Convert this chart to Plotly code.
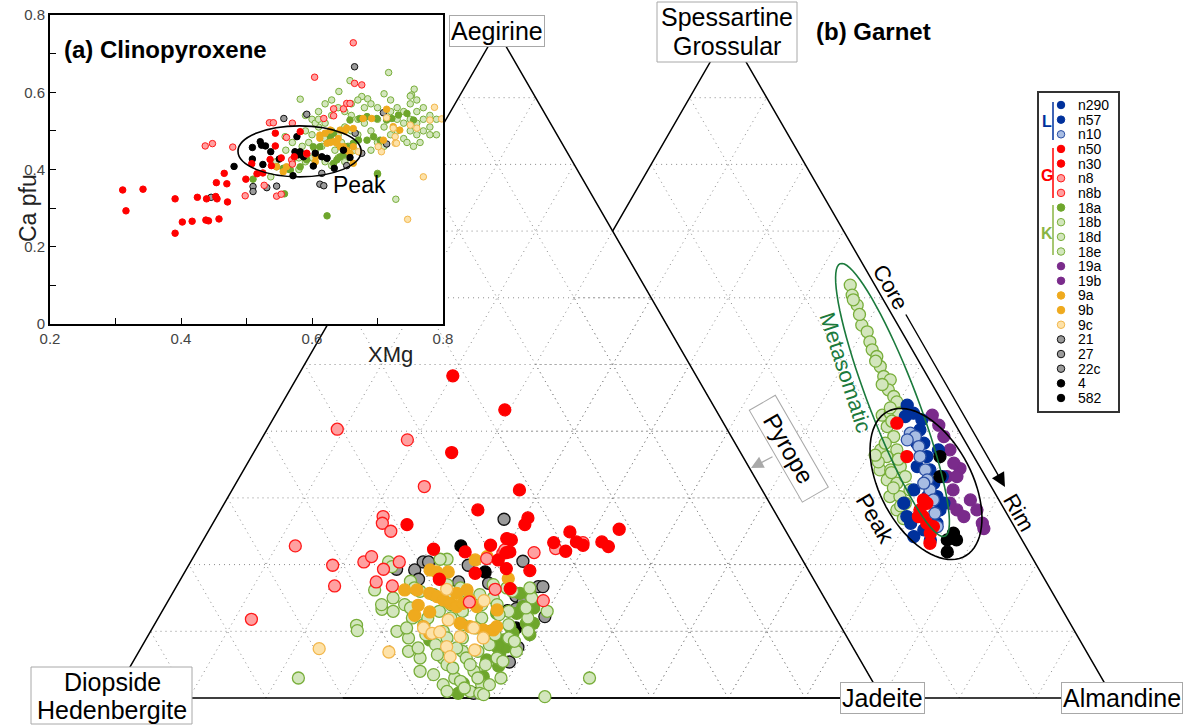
import numpy as np
import plotly.graph_objects as go

# ======================= DATA =======================
# (a) Clinopyroxene inset : (XMg, Ca pfu)
ins_G_solid = [(0.311,0.347),(0.316,0.293),(0.342,0.349),(0.391,0.324),(0.391,0.235),(0.402,0.264),(0.417,0.266),
               (0.425,0.328),(0.439,0.324),(0.438,0.269),(0.442,0.267),(0.453,0.330),(0.455,0.324),(0.454,0.366),
               (0.458,0.272),(0.466,0.390),(0.470,0.363),(0.471,0.316),(0.499,0.375),(0.508,0.415),(0.516,0.389),
               (0.525,0.391),(0.536,0.426),(0.544,0.494),(0.544,0.461),(0.538,0.410),(0.553,0.430),(0.573,0.433),
               (0.582,0.498),(0.592,0.442)]                                   # n50, n30
ins_G_open = [(0.663,0.728),(0.604,0.639),(0.665,0.623),(0.676,0.619),(0.633,0.557),(0.648,0.557),(0.653,0.571),
              (0.658,0.571),(0.633,0.539),(0.618,0.532),(0.535,0.521),(0.541,0.521),(0.570,0.520),(0.437,0.461),
              (0.448,0.467),(0.479,0.458),(0.498,0.332),(0.527,0.359),(0.546,0.331),(0.553,0.336),(0.561,0.483),
              (0.569,0.425),(0.570,0.414),(0.592,0.440)]                      # n8, n8b
ins_gray = [(0.446,0.328),(0.665,0.666),(0.557,0.532),(0.592,0.543),(0.510,0.356),(0.510,0.343),(0.531,0.353),
            (0.546,0.357),(0.615,0.390),(0.612,0.362),(0.618,0.358),(0.653,0.410),(0.709,0.547),(0.714,0.466),
            (0.676,0.442),(0.666,0.494)]                                      # 21, 27, 22c
ins_black = [(0.481,0.408),(0.509,0.457),(0.509,0.427),(0.521,0.472),(0.523,0.463),(0.529,0.461),(0.525,0.413),
             (0.537,0.446),(0.550,0.427),(0.571,0.384),(0.574,0.446),(0.579,0.438),(0.577,0.485),(0.587,0.433),
             (0.602,0.409),(0.615,0.433),(0.623,0.429),(0.634,0.403),(0.658,0.431),(0.582,0.446),(0.605,0.442),
             (0.648,0.450)]                                                   # 4, 582
ins_K_solid = [(0.510,0.375),(0.558,0.337),(0.623,0.280),(0.700,0.388),(0.633,0.416),(0.638,0.425),(0.643,0.433),
               (0.648,0.438),(0.653,0.459),(0.663,0.468),(0.671,0.476),(0.658,0.528),(0.673,0.532),(0.684,0.537),
               (0.699,0.532),(0.714,0.528),(0.722,0.532),(0.732,0.541),(0.745,0.545),(0.755,0.528),(0.684,0.476),
               (0.694,0.485),(0.704,0.476),(0.546,0.407),(0.556,0.403),(0.567,0.399),(0.582,0.407),(0.592,0.425),
               (0.602,0.459),(0.612,0.459),(0.628,0.485),(0.633,0.494)]       # 18a
ins_K_open = [(0.717,0.651),(0.756,0.608),(0.641,0.602),(0.685,0.583),(0.710,0.596),(0.582,0.582),(0.676,0.589),
              (0.658,0.630),(0.728,0.323),(0.700,0.390),(0.537,0.381),(0.559,0.485),(0.752,0.593),
              (0.590,0.540),(0.600,0.530),(0.610,0.550),(0.620,0.520),(0.630,0.540),(0.640,0.560),(0.650,0.550),
              (0.660,0.540),(0.670,0.530),(0.590,0.500),(0.600,0.490),(0.610,0.510),(0.620,0.480),(0.630,0.500),
              (0.640,0.490),(0.650,0.510),(0.660,0.500),(0.670,0.490),(0.585,0.460),(0.595,0.470),(0.605,0.450),
              (0.615,0.460),(0.625,0.470),(0.635,0.450),(0.645,0.470),(0.655,0.460),(0.665,0.450),(0.580,0.430),
              (0.590,0.420),(0.600,0.430),(0.620,0.420),(0.630,0.410),(0.640,0.430),(0.650,0.420),(0.580,0.400),
              (0.570,0.420),(0.560,0.450),(0.570,0.470),(0.565,0.400),(0.545,0.420),
              (0.680,0.520),(0.690,0.500),(0.700,0.530),(0.710,0.510),(0.720,0.550),(0.730,0.530),(0.740,0.550),
              (0.750,0.570),(0.760,0.580),(0.770,0.560),(0.780,0.540),(0.790,0.530),(0.720,0.490),(0.730,0.500),
              (0.740,0.480),(0.750,0.500),(0.760,0.490),(0.770,0.500),(0.780,0.490),(0.790,0.490),(0.740,0.520),
              (0.750,0.530),(0.760,0.520),(0.770,0.530),(0.780,0.510),(0.755,0.460),(0.765,0.470),(0.745,0.470),
              (0.700,0.470),(0.690,0.450),(0.710,0.460),(0.730,0.560),(0.700,0.560),(0.680,0.560),(0.670,0.580),
              (0.690,0.570),(0.760,0.550),(0.750,0.590),(0.720,0.580),(0.620,0.570),(0.630,0.580),(0.660,0.570),
              (0.605,0.520),(0.610,0.530)]                                    # 18b, 18d, 18e
ins_O_solid = [(0.714,0.556),(0.691,0.532),(0.678,0.532),(0.663,0.506),(0.653,0.507),(0.643,0.502),(0.628,0.502),
               (0.620,0.494),(0.612,0.489),(0.612,0.481),(0.623,0.468),(0.633,0.472),(0.638,0.468),(0.643,0.459),
               (0.648,0.459),(0.653,0.450),(0.658,0.442),(0.663,0.459),(0.605,0.420),(0.606,0.433),(0.561,0.407),
               (0.556,0.394),(0.546,0.407),(0.663,0.416),(0.734,0.502),(0.724,0.511),(0.709,0.476),(0.650,0.500),
               (0.640,0.480),(0.628,0.470)]                                   # 9a, 9b
ins_O_open = [(0.787,0.561),(0.798,0.531),(0.780,0.528),(0.770,0.381),(0.746,0.271),(0.714,0.534),(0.724,0.507),
              (0.727,0.485),(0.727,0.468),(0.706,0.446),(0.701,0.459),(0.729,0.468),(0.671,0.446),(0.750,0.515),
              (0.760,0.507)]                                                  # 9c

# (b) left ternary: clinopyroxene compositions (Jadeite %, Aegirine %); Quad = 100 - Jd - Ae
cpx_G_solid = [(20.1,48.3),(29.4,43.2),(25.7,36.8),(37.3,31.2),(33.4,28.2),(25.3,26.0),(40.5,27.0),(40.6,26.0),
               (47.0,24.9),(53.2,25.3),(51.9,23.4),(53.1,22.7),(48.6,23.4),(49.7,22.9),(45.7,23.3),(47.9,22.0),
               (39.3,23.9),(40.0,23.7),(40.7,21.9),(40.3,21.8),(37.7,22.9),(30.6,22.3),(34.9,21.9),(39.8,20.7),
               (41.5,19.4),(44.7,19.1),(37.8,18.7),(33.6,17.8),(43.5,16.4)]
cpx_G_open = [(9.1,40.3),(19.0,38.7),(24.7,31.7),(21.6,27.2),(22.0,26.2),(23.7,25.0),(12.4,22.8),(18.7,19.9),
              (20.5,16.8),(22.5,20.4),(23.1,21.2),(25.6,19.3),(25.6,17.4),(28.0,16.8),(27.1,20.4),(12.2,11.8),
              (38.2,20.9),(39.9,21.7),(39.9,22.2),(41.6,16.3),(39.2,14.4),(43.9,21.8),(48.7,14.6),(46.4,22.4),
              (49.5,23.3)]
cpx_gray = [(37.5,26.8),(43.1,20.5),(30.2,20.4),(30.9,20.4),(29.7,19.2),(30.9,17.8),(27.3,19.3),(36.3,17.4),
            (36.3,19.9),(40.3,17.2),(44.8,15.3),(46.2,14.3),(47.0,16.7),(47.6,16.7),(50.1,12.2),(48.9,7.6),
            (48.9,5.4),(46.6,0.7),(45.8,13.4)]
cpx_black = [(33.9,22.8),(39.0,18.9),(44.8,13.1),(47.2,10.5)]
cpx_K_solid = [(46.6,15.4),(46.5,13.7),(46.2,12.7),(46.3,10.7),(46.5,8.7),(47.0,6.7),(47.4,7.7),(47.2,9.7),
               (48.2,11.2),(49.1,11.2),(43.6,12.7),(44.7,9.7),(44.6,0.7),(44.5,2.2),(46.6,3.2),(36.9,8.7),
               (45.1,15.7),(46.1,7.7),(45.8,5.7),(48.0,13.5),(49.5,9.5),(47.8,4.8)]
cpx_K_open = [(22.7,3.0),(26.3,10.9),(26.8,10.1),(28.4,13.3),(60.5,3.0),(56.1,0.2),(26.0,16.2),(25.7,20.4),
              (26.5,19.7),(33.1,20.8),(32.2,20.8),
              (29,15),(32,16),(35,17),(38,16),(41,17),(44,16),(47,15),(30,17.5),(36,15),(42,15),
              (30,13),(33,12),(36,13),(39,13),(42,12),(45,13),(48,12),(50,13),(31,14),(37,14),(43,14),
              (32,10),(35,11),(38,10),(41,9),(44,10),(47,9),(49,10),(34,9),(40,11),(46,11),
              (35,7),(38,8),(40,6),(42,7),(45,8),(47,6),(49,7),(37,6),(43,6),
              (38,4),(41,5),(43,3),(45,4),(47,2),(49,3),(44,5),(46,1),(47.4,0.7),(48,0.5),(42,2),
              (31,16.5),(34,15.5),(37,16.5),(40,15.5),(43,16.5),(46,16.5),(28,14),(32,13.5),(35,12),(38,12),
              (41,14),(44,12.5),(47,13.5),(33,10.5),(36,9.5),(39,9),(42,10.5),(45,9.5),(48,8.5),(36,7.5),
              (39,6.5),(41,7.5),(44,7),(46,5),(48,5.5),(40,3.5),(42,4.5),(44,2.5),(46,3),(45,1.5),(43,1),(48,2)]
cpx_O_solid = [(38.1,21.2),(36.8,20.7),(42.5,17.9),(31.7,19.2),(32.7,18.9),(34.2,18.9),(29.9,16.2),(31.5,16.2),
               (33.4,15.7),(34.6,15.2),(35.7,14.7),(36.8,14.2),(37.9,13.7),(38.5,14.2),(39.1,14.7),(40.5,13.7),
               (32.8,13.9),(33.1,12.4),(34.8,12.9),(39.6,11.2),(41.1,10.7),(43.1,10.2),(44.4,10.2),(44.6,10.7),
               (35.1,10.7),(36.4,9.7),(36.9,15.7),(38.0,16.2),(43.4,13.2)]
cpx_O_open = [(23.2,7.4),(32.5,6.9),(35.3,16.3),(41.0,14.6),(37.8,11.7),(35.2,10.5),(36.7,9.7),(37.6,9.9),
              (40.6,9.2),(41.7,10.5),(43.7,9.0),(43.5,7.2),(39.6,7.7),(40.8,6.2)]

# (b) right ternary: garnet compositions (Spessartine+Grossular %, Pyrope %); Almandine = 100 - Grs - Prp
grt_K_open = [(61.9,3.2),(60.4,3.7),(58.9,3.8),(59.7,3.9),(55.9,4.7),(54.9,4.5),(53.4,4.9),(52.2,5.2),(51.2,5.1),
              (49.7,5.4),(48.2,5.7),(47.7,5.1),(46.2,6.1),(45.2,5.9),(44.4,5.9),(42.4,8.8),(42.7,7.6),(42.7,6.5),
              (40.7,9.0),(39.2,8.9),(37.2,11.6),(36.2,11.3),(37.2,9.5),(34.2,13.2),(34.2,11.8),(34.7,10.3),
              (32.7,13.0),(32.2,12.0),(33.2,10.4),(30.2,13.9),(30.2,12.6),(28.2,14.0),(29.2,12.4),(26.9,13.8),
              (31.2,10.8),(35.4,12.8),(36.4,12.7),(57.5,4.2),(50.5,5.6),(47.0,6.5),(43.5,7.2),(41.5,8.0),
              (38.2,10.5),(35.8,10.0),(31.5,12.8),(28.8,13.2),(33.8,11.9)]
grt_P = [(42.4,2.3),(40.9,2.2),(39.2,2.4),(37.2,2.6),(34.4,2.7),(35.2,3.1),(33.2,5.0),(31.2,5.2),(29.7,3.7),
         (28.2,3.6),(26.2,3.9),(25.4,4.1),(28.2,6.2),(27.2,5.8),(29.2,6.6),(33.2,3.7)]
grt_L_solid = [(43.9,4.8),(42.7,4.6),(42.2,5.9),(40.2,5.0),(38.2,5.5),(36.2,6.1),(34.2,6.7),(32.2,7.2),(30.2,7.8),
               (28.2,8.4),(26.2,9.8),(25.2,12.0),(26.2,13.2),(29.2,12.6),(27.2,13.2),(24.2,13.8),(23.7,11.9),
               (41.7,4.0),(38.2,6.4),(34.7,8.1),(31.2,10.3),(30.2,9.0),(33.2,5.6),(29.2,7.4),(37.2,4.1)]
grt_L_open = [(39.7,6.5),(39.2,6.1),(37.7,6.4),(36.2,7.0),(34.2,7.3),(32.7,7.8),(31.2,8.2),(29.7,8.5),(27.7,9.3),
              (25.7,10.0),(32.2,8.5),(38.7,7.4)]
grt_G_solid = [(41.2,7.5),(36.2,8.7),(29.7,9.8),(28.2,11.0),(27.2,11.1),(26.2,11.1),(24.7,11.4),(23.2,12.2),
               (25.7,10.5),(29.2,9.6),(27.2,11.7)]
grt_black = [(24.7,8.4),(23.7,9.7),(23.7,8.5),(21.9,10.6),(36.2,4.4),(33.2,5.9)]

# legend
legend_names = ['n290', 'n57', 'n10', 'n50', 'n30', 'n8', 'n8b', '18a', '18b', '18d', '18e',
                '19a', '19b', '9a', '9b', '9c', '21', '27', '22c', '4', '582']
legend_keys = ['L1', 'L1', 'L2', 'G1', 'G1', 'G2', 'G2', 'K1', 'K2', 'K2', 'K2',
               'P', 'P', 'O1', 'O1', 'O2', 'GR', 'GR', 'GR', 'BK', 'BK']

# ======================= STYLES / GEOMETRY =======================
FONT = "Liberation Sans, Arial, sans-serif"
STY = {
    'L1': ('#00319c', '#00319c'), 'L2': ('#a8bde3', '#2a4ea3'),
    'G1': ('#ff0000', '#ff0000'), 'G2': ('#ffa0a0', '#ff1a1a'),
    'K1': ('#6ea62c', '#6ea62c'), 'K2': ('#d3e6bd', '#78ae3a'),
    'P': ('#7a2b8b', '#7a2b8b'),
    'O1': ('#efaa1e', '#efaa1e'), 'O2': ('#fde2a9', '#f2b74c'),
    'GR': ('#9b9b9b', '#111111'), 'BK': ('#000000', '#000000'),
}
S = 7.702          # screen px per 1 % of composition
X0P, Y0P = 112, 698
SQ = np.sqrt(3) / 2
GRT_OFF = 30.0     # garnet triangle shifted 3 grid steps to the right


def ux(px):
    return (px - X0P) / S


def uy(py):
    return (Y0P - py) / S


def cpx_xy(jd, ae):
    jd = np.asarray(jd, float); ae = np.asarray(ae, float)
    return jd + ae / 2, ae * SQ


def grt_xy(grs, prp):
    grs = np.asarray(grs, float); prp = np.asarray(prp, float)
    alm = 100 - grs - prp
    return GRT_OFF + alm + grs / 2, grs * SQ


fig = go.Figure()


def add_pts(x, y, key, size, lw, xa='x', ya='y'):
    fill, edge = STY[key]
    fig.add_trace(go.Scatter(x=list(x), y=list(y), mode='markers', xaxis=xa, yaxis=ya,
                             marker=dict(size=size, color=fill, line=dict(color=edge, width=lw)),
                             showlegend=False, hoverinfo='skip'))


# ---- grids ----
gx, gy = [], []
for k in range(10, 100, 10):
    for (j0, a0, j1, a1) in [(0, k, 100 - k, k), (k, 0, k, 100 - k), (100 - k, 0, 0, 100 - k)]:
        x, y = cpx_xy([j0, j1], [a0, a1]); gx += list(x) + [None]; gy += list(y) + [None]
    for (g0, p0, g1, p1) in [(k, 100 - k, k, 0), (0, k, 100 - k, k), (0, 100 - k, 100 - k, 0)]:
        x, y = grt_xy([g0, g1], [p0, p1]); gx += list(x) + [None]; gy += list(y) + [None]
fig.add_trace(go.Scatter(x=gx, y=gy, mode='lines', line=dict(color='#8a8a8a', width=1, dash='1px,4px'),
                         showlegend=False, hoverinfo='skip'))

# ---- triangle edges ----
ex, ey = cpx_xy([0, 100, 0, 0], [0, 0, 100, 0])
g_cut = 100 - GRT_OFF
gex, gey = grt_xy([0, 0, 100, g_cut], [100, 0, 0, 100 - g_cut])
fig.add_trace(go.Scatter(x=list(ex) + [None] + list(gex), y=list(ey) + [None] + list(gey), mode='lines',
                         line=dict(color='black', width=1.5), showlegend=False, hoverinfo='skip'))

# ---- clinopyroxene ternary points ----
TS = 12
for data, key in [(cpx_gray, 'GR'), (cpx_black, 'BK'), (cpx_K_solid, 'K1'), (cpx_K_open, 'K2'),
                  (cpx_O_solid, 'O1'), (cpx_O_open, 'O2'), (cpx_G_open, 'G2'), (cpx_G_solid, 'G1')]:
    jd, ae = zip(*data)
    x, y = cpx_xy(jd, ae)
    add_pts(x, y, key, TS, 1.3)

# ---- garnet ternary points ----
for data, key in [(grt_K_open, 'K2'), (grt_P, 'P'), (grt_L_solid, 'L1'), (grt_L_open, 'L2'),
                  (grt_G_solid, 'G1'), (grt_black, 'BK')]:
    grs, prp = zip(*data)
    x, y = grt_xy(grs, prp)
    add_pts(x, y, key, TS, 1.3)

# ---- legend markers ----
LEG_X, LEG_Y0, LEG_DY = 1061, 105, 14.65
for key in STY:
    idx = [i for i, k in enumerate(legend_keys) if k == key]
    add_pts([ux(LEG_X)] * len(idx), [uy(LEG_Y0 + i * LEG_DY) for i in idx], key, 7.5, 1)

# ---- inset (a) ----
for data, key in [(ins_K_open, 'K2'), (ins_K_solid, 'K1'), (ins_gray, 'GR'), (ins_O_solid, 'O1'),
                  (ins_O_open, 'O2'), (ins_black, 'BK'), (ins_G_open, 'G2'), (ins_G_solid, 'G1')]:
    xm, ca = zip(*data)
    add_pts(xm, ca, key, 6.5, 1, 'x2', 'y2')


def ellipse_path(cx, cy, a, b, ang_deg, n=80):
    t = np.linspace(0, 2 * np.pi, n)
    th = np.radians(ang_deg)
    xs = cx + a * np.cos(t) * np.cos(th) - b * np.sin(t) * np.sin(th)
    ys = cy + a * np.cos(t) * np.sin(th) + b * np.sin(t) * np.cos(th)
    return 'M ' + ' L '.join(f'{x:.3f},{y:.3f}' for x, y in zip(xs, ys)) + ' Z'


BOXLINE = dict(color='#a8a8a8', width=1)
shapes = [
    dict(type='path', xref='x', yref='y', path=ellipse_path(ux(892.5), uy(400), 146 / S, 24 / S, 111),
         line=dict(color='#1b7a3c', width=1.6)),
    dict(type='path', xref='x', yref='y', path=ellipse_path(ux(926), uy(484), 82 / S, 46 / S, 118),
         line=dict(color='black', width=1.6)),
    dict(type='circle', xref='x2', yref='y2', x0=0.487, x1=0.675, y0=0.381, y1=0.513,
         line=dict(color='black', width=1.6)),
    dict(type='rect', xref='paper', yref='paper', x0=1038 / 1187, x1=1119 / 1187, y0=1 - 412 / 725,
         y1=1 - 92 / 725, line=dict(color='#333333', width=2)),
    # two-line vertex label boxes
    dict(type='rect', xref='x', yref='y', x0=ux(31), x1=ux(192), y0=uy(724), y1=uy(667),
         fillcolor='white', line=BOXLINE, layer='above'),
    dict(type='rect', xref='x', yref='y', x0=ux(657), x1=ux(797), y0=uy(62), y1=uy(2),
         fillcolor='white', line=BOXLINE, layer='above'),
]
grp = [('L', '#00319c', 102, 140, 121), ('G', '#ff0000', 148, 198, 175), ('K', '#8ab443', 205, 255, 233)]
for lab, col, y0, y1, yl in grp:
    shapes.append(dict(type='line', xref='x', yref='y', x0=ux(1053), x1=ux(1053), y0=uy(y0), y1=uy(y1),
                       line=dict(color=col, width=1.5)))

ann = []


def label(x, y, text, size=25, **kw):
    d = dict(x=x, y=y, xref='x', yref='y', text=text, showarrow=False,
             font=dict(family=FONT, size=size, color='black'))
    d.update(kw)
    ann.append(d)


box = dict(bgcolor='white', bordercolor='#a8a8a8', borderwidth=1, borderpad=1)
vx, vy = cpx_xy([0, 100, 0], [0, 0, 100])
label(vx[2], vy[2], 'Aegirine', **box)
label(vx[1], vy[1], 'Jadeite', **box)
gvx, gvy = grt_xy([100, 0], [0, 0])
label(gvx[1], gvy[1], 'Almandine', xshift=9, **box)
# two-line labels (box drawn as shapes for tighter line spacing)
label(vx[0], uy(681.5), 'Diopside')
label(vx[0], uy(710), 'Hedenbergite')
label(ux(727), uy(17), 'Spessartine')
label(ux(727), uy(46), 'Grossular')

label(ux(873), uy(31), '<b>(b) Garnet</b>', size=24)
label(ux(846), uy(372), 'Metasomatic', textangle=72, font=dict(family=FONT, size=22, color='#1b7a3c'))
label(ux(891), uy(287), 'Core', size=22, textangle=60)
label(ux(1019), uy(512), 'Rim', size=22, textangle=60)
label(ux(875), uy(518), 'Peak', size=23, textangle=60)
label(ux(789), uy(448), '\u00a0\u00a0Pyrope\u00a0\u00a0', size=24, textangle=60,
      bgcolor='white', bordercolor='#a8a8a8', borderwidth=1, borderpad=1)
ann.append(dict(x=ux(1005), y=uy(487), ax=ux(905), ay=uy(313), xref='x', yref='y', axref='x', ayref='y',
                text='', showarrow=True, arrowhead=2, arrowsize=2, arrowwidth=1.4, arrowcolor='black'))
ann.append(dict(x=ux(751), y=uy(468), ax=ux(774), ay=uy(456), xref='x', yref='y', axref='x', ayref='y',
                text='', showarrow=True, arrowhead=2, arrowsize=1.9, arrowwidth=1.3, arrowcolor='#a9a9a9'))

# legend text
for i, name in enumerate(legend_names):
    label(ux(1077), uy(LEG_Y0 + i * LEG_DY), name, size=14, xanchor='left', borderpad=0)
for lab, col, y0, y1, yl in grp:
    label(ux(1047), uy(yl), f'<b>{lab}</b>', font=dict(family=FONT, size=16, color=col))

# inset annotations
ann.append(dict(x=62 / 1187, y=1 - 34 / 725, xref='paper', yref='paper', text='<b>(a) Clinopyroxene</b>',
                showarrow=False, xanchor='left', font=dict(family=FONT, size=24, color='black')))
ann.append(dict(x=366 / 1187, y=1 - 354 / 725, xref='paper', yref='paper', text='XMg', showarrow=False,
                font=dict(family=FONT, size=22, color='#222')))
ann.append(dict(x=13 / 1187, y=1 - 172 / 725, xref='paper', yref='paper', text='Ca pfu', showarrow=False,
                textangle=-90, font=dict(family=FONT, size=23, color='#222')))
ann.append(dict(x=0.672, y=0.36, xref='x2', yref='y2', text='Peak', showarrow=False,
                font=dict(family=FONT, size=23, color='black')))

inset_ax = dict(showline=True, mirror=True, linecolor='black', linewidth=2, ticks='inside', ticklen=6,
                tickcolor='black', tickwidth=1, showgrid=False, zeroline=False, automargin=False,
                tickfont=dict(family=FONT, size=15, color='#444'),
                minor=dict(dtick=0.1, ticks='inside', ticklen=6, tickcolor='black'))

fig.update_layout(
    width=1187, height=725, margin=dict(l=0, r=0, t=0, b=0, pad=0, autoexpand=False), autosize=False,
    paper_bgcolor='white', plot_bgcolor='white', showlegend=False,
    xaxis=dict(domain=[0, 1], range=[ux(0), ux(1187)], visible=False, fixedrange=True, automargin=False),
    yaxis=dict(domain=[0, 1], range=[uy(725), uy(0)], visible=False, fixedrange=True, automargin=False),
    xaxis2=dict(domain=[50 / 1187, 443 / 1187], range=[0.2, 0.8], anchor='y2', dtick=0.2, tick0=0.2, **inset_ax),
    yaxis2=dict(domain=[1 - 324 / 725, 1 - 15 / 725], range=[0, 0.8], anchor='x2', dtick=0.2, tick0=0, **inset_ax),
    shapes=shapes, annotations=ann,
    font=dict(family=FONT),
)
fig.write_html("out.html", config={'displayModeBar': False},
               post_script="document.body.style.margin='0';document.body.style.overflow='hidden';")
